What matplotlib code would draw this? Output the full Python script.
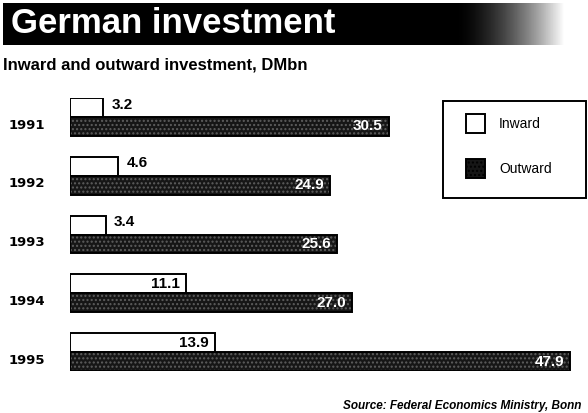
import numpy as np
import matplotlib
matplotlib.use("Agg")
import matplotlib.pyplot as plt
from matplotlib.patches import Rectangle

plt.rcParams['font.family'] = ['Liberation Sans', 'DejaVu Sans']

# data, DM bn
years = ['1991', '1992', '1993', '1994', '1995']
inward = [3.2, 4.6, 3.4, 11.1, 13.9]
outward = [30.5, 24.9, 25.6, 27.0, 47.9]

W, H = 588, 413
fig = plt.figure(figsize=(W / 100, H / 100), dpi=100)
fig.patch.set_facecolor('white')


def px(x, y):
    # pixel (from top-left) -> figure fraction
    return x / W, 1 - y / H


# title bar
fig.patches.append(Rectangle(px(3, 45), 452 / W, 42 / H, transform=fig.transFigure,
                             facecolor='black', edgecolor='none'))
grad = fig.add_axes([455 / W, 1 - 45 / H, 110 / W, 42 / H])
grad.imshow(np.linspace(0, 1, 64)[None, :] ** 1.6, cmap='gray', aspect='auto', vmin=0, vmax=1)
grad.axis('off')
fig.text(*px(11, 33), 'German investment', color='white', fontsize=25,
         fontweight='bold', va='baseline', ha='left')
fig.text(*px(3, 70), 'Inward and outward investment, DMbn', fontsize=12,
         fontweight='bold', va='baseline', ha='left')

# bars
ax = fig.add_axes([70 / W, (H - 371) / H, 518 / W, 273 / H])
y = np.arange(len(years))
h = 0.323
y_in = y + h / 2
y_out = y + h * 1.5

ax.barh(y_in, inward, height=h, left=0, color='white', edgecolor='black', linewidth=1.4)
ax.barh(y_out, outward, height=h, left=0, color='#161616', edgecolor='#5e5e5e',
        linewidth=0, hatch='....')
ax.barh(y_out, outward, height=h, left=0, color='none', edgecolor='black', linewidth=1.4)

for yi, v in zip(y_in, inward):
    if v > 8:
        ax.text(v - 0.6, yi, f'{v:.1f}', ha='right', va='center', fontsize=11,
                fontweight='bold', color='black')
    else:
        ax.text(v + 0.8, yi - 0.05, f'{v:.1f}', ha='left', va='center', fontsize=11,
                fontweight='bold', color='black')
for yo, v in zip(y_out, outward):
    ax.text(v - 0.6, yo, f'{v:.1f}', ha='right', va='center', fontsize=11,
            fontweight='bold', color='white')

ax.set_xlim(0, 49.6)
ax.set_ylim(len(years) - 1 + 2 * h, 0)
ax.set_yticks(y_out - 0.05)
ax.set_yticklabels(years, fontsize=9.5, fontweight='bold', family='DejaVu Sans')
ax.tick_params(axis='y', length=0, pad=18)
ax.set_xticks([])
for s in ax.spines.values():
    s.set_visible(False)
ax.patch.set_alpha(0)

# legend box
fig.patches.append(Rectangle(px(443, 198), 143 / W, 97 / H, transform=fig.transFigure,
                             facecolor='white', edgecolor='black', linewidth=1.4))
fig.patches.append(Rectangle(px(466, 133), 19 / W, 19 / H, transform=fig.transFigure,
                             facecolor='white', edgecolor='black', linewidth=1.4))
fig.patches.append(Rectangle(px(466, 178), 19 / W, 19 / H, transform=fig.transFigure,
                             facecolor='#161616', edgecolor='black', linewidth=1.4,
                             hatch='....'))
fig.text(*px(499, 124), 'Inward', fontsize=10, va='center', ha='left')
fig.text(*px(499, 169), 'Outward', fontsize=10, va='center', ha='left')

fig.text(*px(343, 409), 'Source: Federal Economics Ministry, Bonn', fontsize=8.5,
         fontweight='bold', style='italic', va='baseline', ha='left')

fig.savefig('out.png', dpi=100)
